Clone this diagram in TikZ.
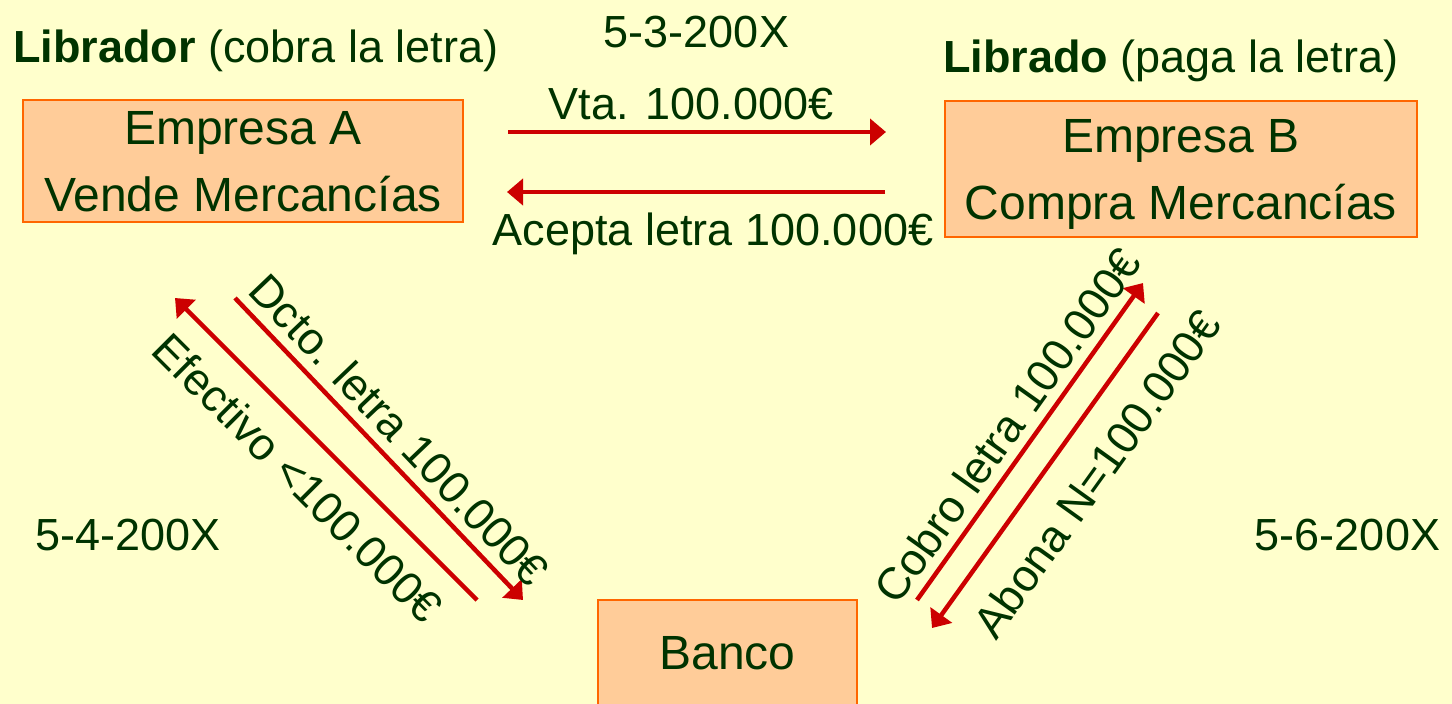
\documentclass[tikz,border=0pt]{standalone}
\usepackage{fontspec}
\setmainfont{Liberation Sans}
\usepackage{xcolor}
\usepackage{tikz}
\usetikzlibrary{positioning, arrows.meta}

\definecolor{paper}{HTML}{FFFFCC}
\definecolor{boxfill}{HTML}{FFCC99}
\definecolor{boxline}{HTML}{FF6600}
\definecolor{flowred}{HTML}{CC0000}
\definecolor{inkgreen}{HTML}{003300}

\begin{document}
\begin{tikzpicture}[x=1pt, y=-1pt,
    firm/.style={draw=boxline, fill=boxfill, rectangle, line width=2.5pt, inner sep=0pt,
                 align=center, text=inkgreen, text depth=0pt, font=\fontsize{48}{67}\selectfont},
    flow/.style={draw=flowred, line width=4.5pt, -{Triangle[length=16pt, width=26pt]}},
    lbl/.style={text=inkgreen, inner sep=2pt, font=\fontsize{45}{54}\selectfont},
    role/.style={text=inkgreen, inner sep=0pt, anchor=base west, font=\fontsize{45}{54}\selectfont},
    day/.style={text=inkgreen, inner sep=0pt, anchor=base, font=\fontsize{45}{54}\selectfont},
]

% === background ===
\fill[paper] (0,0) rectangle (1452,704);
\useasboundingbox (0,0) rectangle (1452,704);

% === parties ===
\node[role] (libA) at (13,62) {\textbf{Librador} (cobra la letra)};
\node[role] (libB) at (943,72) {\textbf{Librado} (paga la letra)};

\node[firm, minimum width=440pt, minimum height=122pt] (empA) at (243,161) {Empresa A\\Vende Mercancías};
\node[firm, minimum width=472pt, minimum height=136pt] (empB) at (1181,169) {Empresa B\\Compra Mercancías};
\node[firm, minimum width=259pt, minimum height=106pt] (banco) at (727.5,653) {Banco};

% === dates ===
\node[day] (d53) at (696.5,47) {5-3-200X};
\node[day] (d54) at (128,550) {5-4-200X};
\node[day] (d56) at (1347.5,550) {5-6-200X};

% === arrow ends ===
\coordinate (vtaS) at (508,132);   \coordinate (vtaE) at (886,132);
\coordinate (acpS) at (885,192);   \coordinate (acpE) at (507,192);
\coordinate (dctS) at (235,298);   \coordinate (dctE) at (523,600);
\coordinate (efeS) at (477,600);   \coordinate (efeE) at (175,298);
\coordinate (cobS) at (917,600);   \coordinate (cobE) at (1143,283);
\coordinate (abnS) at (1158,313);  \coordinate (abnE) at (932,628);

% Empresa A <-> Empresa B
\draw[flow] (vtaS) -- (vtaE) node[lbl, midway, above=8pt, xshift=-6pt] (vta) {Vta. 100.000€};
\draw[flow] (acpS) -- (acpE) node[lbl, midway, below=17pt, xshift=17pt] (acp) {Acepta letra 100.000€};

% Empresa A <-> Banco
\draw[flow] (dctS) -- (dctE) node[lbl, midway, sloped, above=7.5pt] (dct) {Dcto. letra 100.000€};
\draw[flow] (efeS) -- (efeE) node[lbl, midway, sloped, below=19.5pt] (efe) {Efectivo <100.000€};

% Banco <-> Empresa B
\draw[flow] (cobS) -- (cobE) node[lbl, pos=0.5, sloped, above=7pt] (cob) {Cobro letra 100.000€};
\draw[flow] (abnS) -- (abnE) node[lbl, pos=0.43, sloped, below=23pt] (abn) {Abona N=100.000€};

\end{tikzpicture}
\end{document}
